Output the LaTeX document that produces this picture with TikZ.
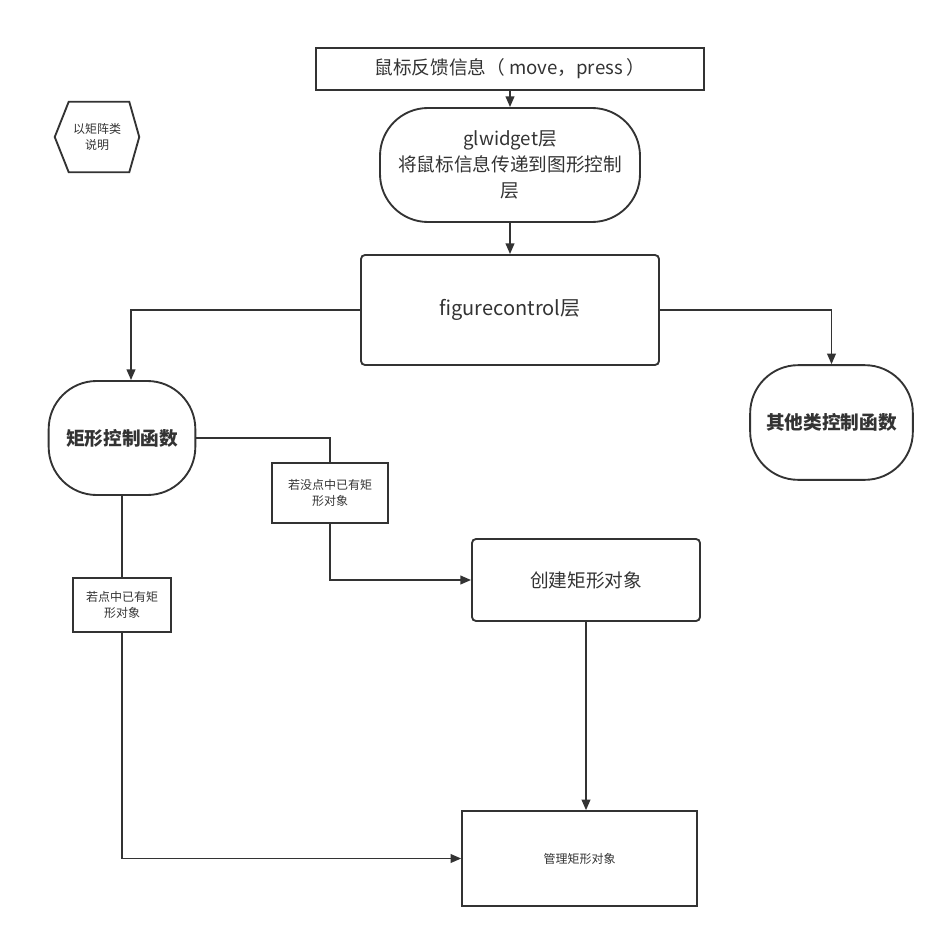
\documentclass[tikz,border=0pt]{standalone}
\usepackage{fontspec}
\setmainfont{Noto Sans CJK SC}
\usepackage{xcolor}
\usepackage{tikz}
\usetikzlibrary{shapes.geometric, arrows.meta, positioning, calc}
\definecolor{ink}{HTML}{333333}
\tikzstyle{arrow} = [line width=1.4pt, draw=ink, -{Triangle[length=8pt, width=6.5pt]}]
\tikzstyle{line} = [line width=1.4pt, draw=ink]
\tikzstyle{process} = [rectangle, draw=ink, line width=1.4pt, text=ink, align=center, inner sep=2pt]
\tikzstyle{term} = [process, rounded corners=36pt]
\tikzstyle{cond} = [process, font=\fontsize{9}{12}\selectfont]

\begin{document}
\begin{tikzpicture}[x=0.75pt, y=-0.75pt]
    \useasboundingbox (0,0) rectangle (945,938);

    % Eingang
    \node (fb) [process, minimum width=291pt, minimum height=31.5pt, font=\fontsize{14}{18}\selectfont] at (510,69) {鼠标反馈信息（ move，press ）};
    \node (gl) [term, minimum width=195pt, minimum height=85.5pt, font=\fontsize{14}{19.5}\selectfont] at (510,165) {glwidget层\\将鼠标信息传递到图形控制\\层};
    \node (fc) [process, rounded corners=3pt, minimum width=223.5pt, minimum height=82.5pt, font=\fontsize{15}{18}\selectfont] at (510,310) {figurecontrol层};

    % Hinweis
    \node (note) [text=ink, minimum width=63pt, minimum height=52.5pt, align=center, font=\fontsize{9}{12}\selectfont] at (97,137) {以矩阵类\\说明};
    \draw [line] (note.west) -- ($(note.north west)+(10.5pt,0)$) -- ($(note.north east)+(-7.5pt,0)$) -- (note.east)
        -- ($(note.south east)+(-7.5pt,0)$) -- ($(note.south west)+(10.5pt,0)$) -- cycle;

    % Funktionen
    \node (rc) [term, minimum width=110pt, minimum height=85.5pt, font=\fontsize{14}{18}\selectfont\bfseries] at (122,438) {矩形控制函数};
    \node (oc) [term, minimum width=122pt, minimum height=86pt, font=\fontsize{14}{18}\selectfont\bfseries] at (831.5,422.5) {其他类控制函数};

    % Bedingungen
    \node (miss) [cond, minimum width=87pt, minimum height=45pt] at (330,493) {若没点中已有矩\\形对象};
    \node (hit) [cond, minimum width=73.5pt, minimum height=40.5pt] at (122,605) {若点中已有矩\\形对象};

    % Objekte
    \node (create) [process, rounded corners=3pt, minimum width=171pt, minimum height=61.5pt, font=\fontsize{14}{18}\selectfont] at (586,580) {创建矩形对象};
    \node (manage) [process, minimum width=176pt, minimum height=71pt, font=\fontsize{9}{12}\selectfont] at (579.5,858.5) {管理矩形对象};

    % Pfeile
    \draw [arrow] (fb) -- (gl);
    \draw [arrow] (gl) -- (fc);
    \draw [arrow] (fc.west) -| ([xshift=6.75pt]rc.north);
    \draw [arrow] (fc.east) -| (oc.north);
    \draw [line] (rc.east) -| (miss.north);
    \draw [arrow] (miss.south) |- (create.west);
    \draw [line] (rc.south) -- (rc.south |- hit.north);
    \draw [arrow] (hit.south) |- (manage.west);
    \draw [arrow] (create.south) -- (create.south |- manage.north);
\end{tikzpicture}
\end{document}
